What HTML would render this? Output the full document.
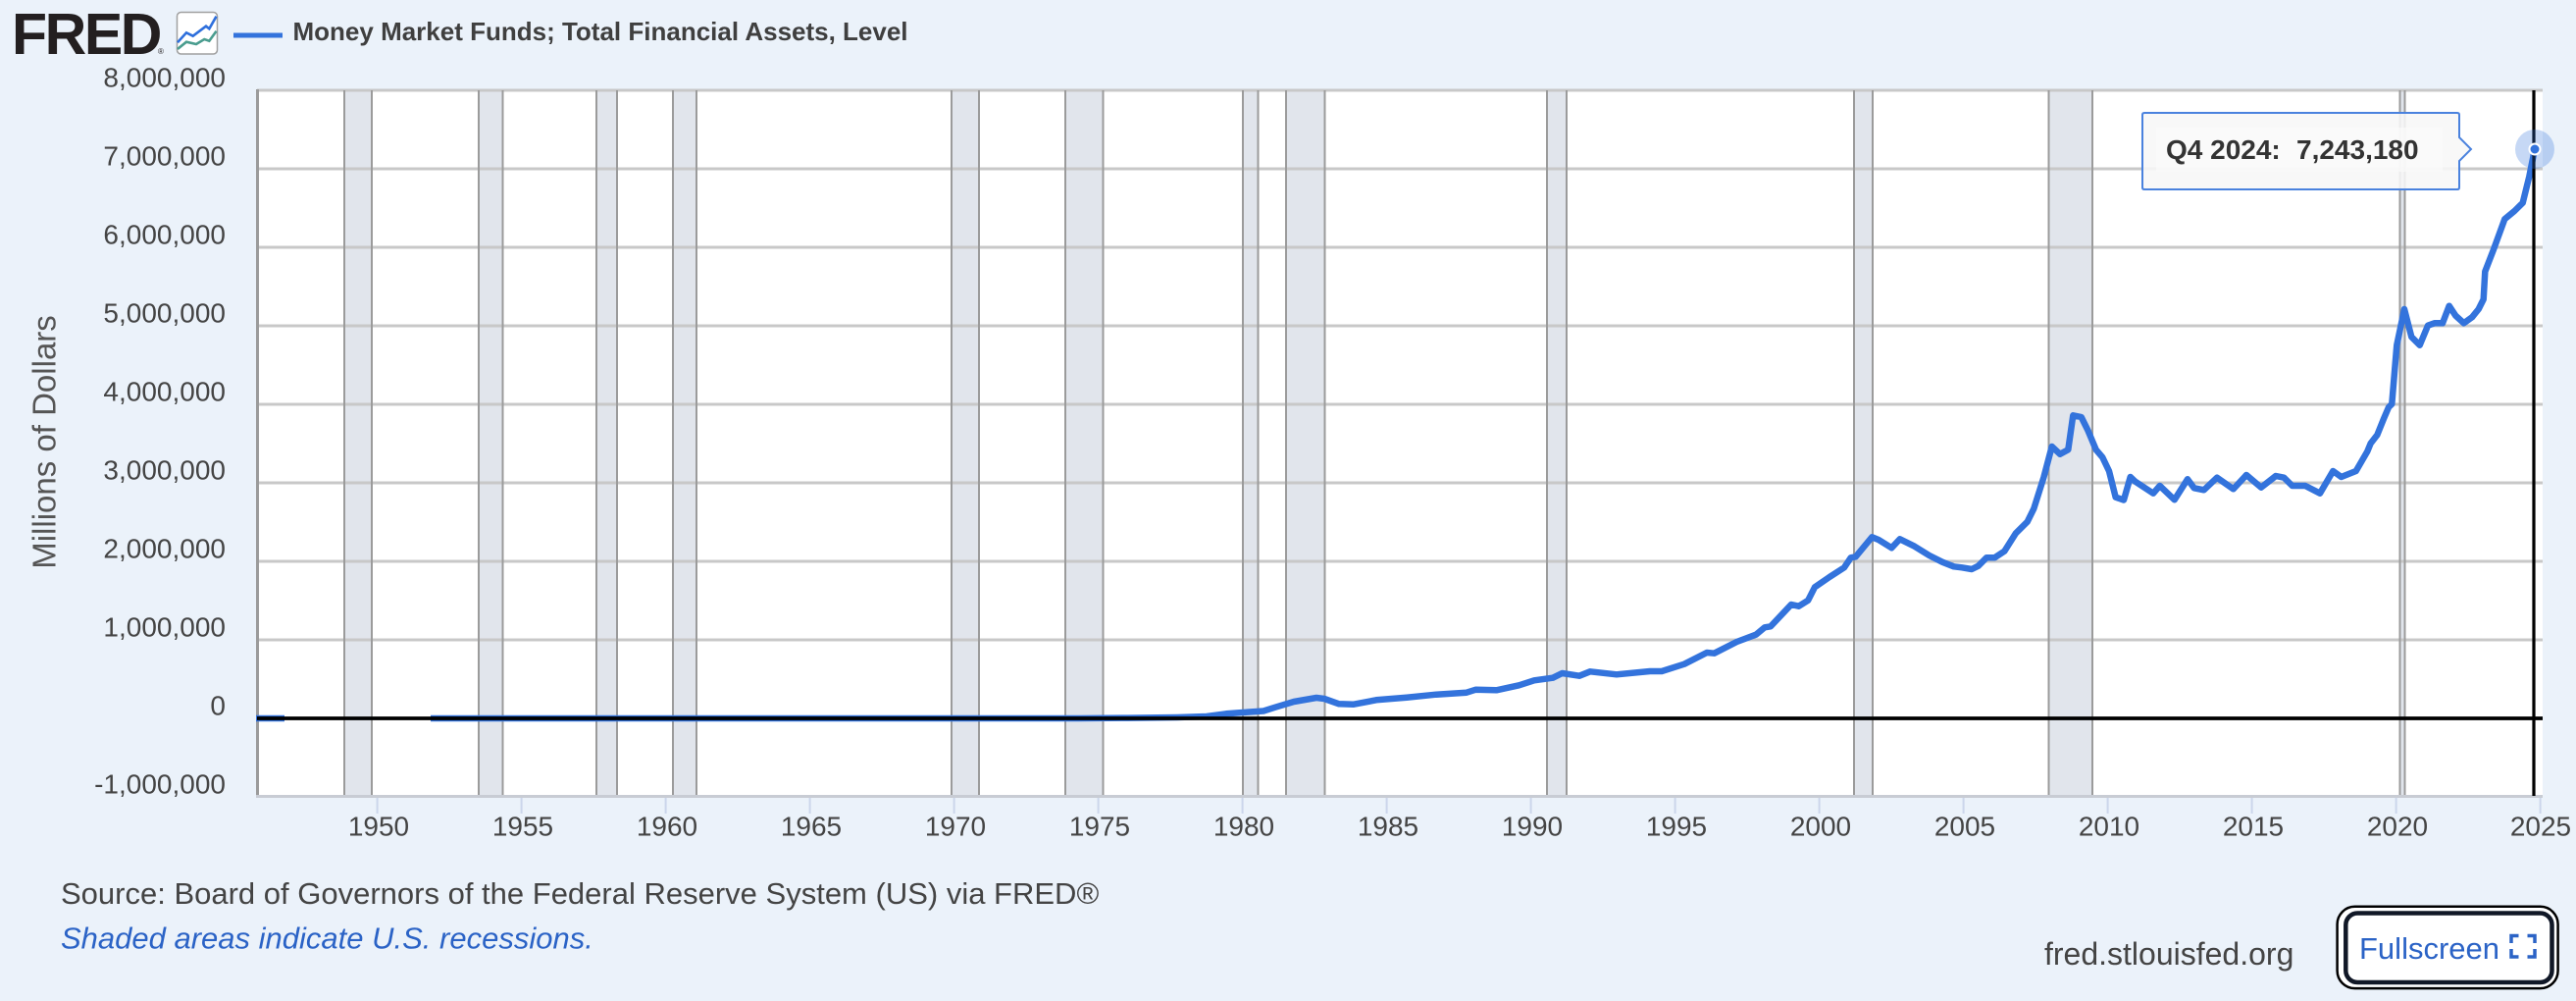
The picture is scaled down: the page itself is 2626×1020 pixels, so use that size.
<!DOCTYPE html>
<html>
<head>
<meta charset="utf-8">
<style>
html,body{margin:0;padding:0;background:#ebf2fa;}
svg{display:block;}
</style>
</head>
<body>
<svg width="2626" height="1020" viewBox="0 0 2626 1020" xmlns="http://www.w3.org/2000/svg" font-family="'Liberation Sans', Arial, sans-serif">
<rect x="0" y="0" width="2626" height="1020" fill="#ebf2fa"/>

<!-- Header / logo -->
<text x="12" y="55" font-size="59" font-weight="bold" fill="#231f20" letter-spacing="-2.4">FRED</text>
<text x="161" y="55" font-size="8" fill="#231f20">®</text>
<rect x="180.5" y="12.5" width="41" height="42.5" rx="4" fill="#fff" stroke="#a0a0a0" stroke-width="1.5"/>
<polyline points="181,43.3 190,33.3 196.7,36.7 210,26.7 213.3,29.3 220.5,16.7" fill="none" stroke="#2e6fdc" stroke-width="2.6"/>
<polyline points="181,50 190,42.7 200,45 208.3,40 213.3,41.7 220.5,31.7" fill="none" stroke="#4a9d8f" stroke-width="2.6"/>
<line x1="238" y1="36" x2="288" y2="36" stroke="#3373dc" stroke-width="5"/>
<text x="298.5" y="41" font-size="26" font-weight="bold" fill="#3f3f3f">Money Market Funds; Total Financial Assets, Level</text>

<!-- Plot area -->
<rect x="261" y="92" width="2331" height="720" fill="#ffffff"/>

<!-- Recession bands -->
<g fill="#e1e5ec" stroke="none">
<rect x="351" y="92" width="28" height="720"/>
<rect x="488" y="92" width="24.5" height="720"/>
<rect x="608" y="92" width="21" height="720"/>
<rect x="686" y="92" width="24" height="720"/>
<rect x="970" y="92" width="28" height="720"/>
<rect x="1086" y="92" width="38.5" height="720"/>
<rect x="1267" y="92" width="15.5" height="720"/>
<rect x="1311" y="92" width="39.5" height="720"/>
<rect x="1577" y="92" width="20" height="720"/>
<rect x="1890" y="92" width="19" height="720"/>
<rect x="2088.5" y="92" width="44.5" height="720"/>
<rect x="2446.5" y="92" width="5" height="720"/>
</g>

<!-- Gridlines -->
<g stroke="#c8c8c8" stroke-width="3">
<line x1="262" y1="92" x2="2592" y2="92"/>
<line x1="262" y1="172" x2="2592" y2="172"/>
<line x1="262" y1="252" x2="2592" y2="252"/>
<line x1="262" y1="332" x2="2592" y2="332"/>
<line x1="262" y1="412" x2="2592" y2="412"/>
<line x1="262" y1="492" x2="2592" y2="492"/>
<line x1="262" y1="572" x2="2592" y2="572"/>
<line x1="262" y1="652" x2="2592" y2="652"/>
</g>

<!-- Recession band edges -->
<g stroke="#9b9b9b" stroke-width="2">
<line x1="351" y1="92" x2="351" y2="811"/><line x1="379" y1="92" x2="379" y2="811"/>
<line x1="488" y1="92" x2="488" y2="811"/><line x1="512.5" y1="92" x2="512.5" y2="811"/>
<line x1="608" y1="92" x2="608" y2="811"/><line x1="629" y1="92" x2="629" y2="811"/>
<line x1="686" y1="92" x2="686" y2="811"/><line x1="710" y1="92" x2="710" y2="811"/>
<line x1="970" y1="92" x2="970" y2="811"/><line x1="998" y1="92" x2="998" y2="811"/>
<line x1="1086" y1="92" x2="1086" y2="811"/><line x1="1124.5" y1="92" x2="1124.5" y2="811"/>
<line x1="1267" y1="92" x2="1267" y2="811"/><line x1="1282.5" y1="92" x2="1282.5" y2="811"/>
<line x1="1311" y1="92" x2="1311" y2="811"/><line x1="1350.5" y1="92" x2="1350.5" y2="811"/>
<line x1="1577" y1="92" x2="1577" y2="811"/><line x1="1597" y1="92" x2="1597" y2="811"/>
<line x1="1890" y1="92" x2="1890" y2="811"/><line x1="1909" y1="92" x2="1909" y2="811"/>
<line x1="2088.5" y1="92" x2="2088.5" y2="811"/><line x1="2133" y1="92" x2="2133" y2="811"/>
<line x1="2446.5" y1="92" x2="2446.5" y2="811"/><line x1="2451.5" y1="92" x2="2451.5" y2="811"/>
</g>

<!-- Axes -->
<line x1="262.5" y1="91" x2="262.5" y2="812" stroke="#9b9b9b" stroke-width="3"/>
<line x1="261" y1="811.5" x2="2592" y2="811.5" stroke="#c8ccd4" stroke-width="3"/>
<g stroke="#ccd6eb" stroke-width="2">
<line x1="384.6" y1="813" x2="384.6" y2="829"/>
<line x1="531.6" y1="813" x2="531.6" y2="829"/>
<line x1="678.6" y1="813" x2="678.6" y2="829"/>
<line x1="825.6" y1="813" x2="825.6" y2="829"/>
<line x1="972.6" y1="813" x2="972.6" y2="829"/>
<line x1="1119.6" y1="813" x2="1119.6" y2="829"/>
<line x1="1266.6" y1="813" x2="1266.6" y2="829"/>
<line x1="1413.6" y1="813" x2="1413.6" y2="829"/>
<line x1="1560.6" y1="813" x2="1560.6" y2="829"/>
<line x1="1707.6" y1="813" x2="1707.6" y2="829"/>
<line x1="1854.6" y1="813" x2="1854.6" y2="829"/>
<line x1="2001.6" y1="813" x2="2001.6" y2="829"/>
<line x1="2148.6" y1="813" x2="2148.6" y2="829"/>
<line x1="2295.6" y1="813" x2="2295.6" y2="829"/>
<line x1="2442.6" y1="813" x2="2442.6" y2="829"/>
<line x1="2589.6" y1="813" x2="2589.6" y2="829"/>
</g>

<!-- Y labels -->
<g font-size="28" fill="#444" text-anchor="end">
<text x="230" y="88.5">8,000,000</text>
<text x="230" y="168.5">7,000,000</text>
<text x="230" y="248.5">6,000,000</text>
<text x="230" y="328.5">5,000,000</text>
<text x="230" y="408.5">4,000,000</text>
<text x="230" y="488.5">3,000,000</text>
<text x="230" y="568.5">2,000,000</text>
<text x="230" y="648.5">1,000,000</text>
<text x="230" y="728.5">0</text>
<text x="230" y="808.5">-1,000,000</text>
</g>
<text transform="translate(56.5,450.5) rotate(-90)" text-anchor="middle" font-size="33" fill="#555">Millions of Dollars</text>

<!-- X labels -->
<g font-size="28" fill="#444" text-anchor="middle">
<text x="386" y="851.5">1950</text>
<text x="533" y="851.5">1955</text>
<text x="680" y="851.5">1960</text>
<text x="827" y="851.5">1965</text>
<text x="974" y="851.5">1970</text>
<text x="1121" y="851.5">1975</text>
<text x="1268" y="851.5">1980</text>
<text x="1415" y="851.5">1985</text>
<text x="1562" y="851.5">1990</text>
<text x="1709" y="851.5">1995</text>
<text x="1856" y="851.5">2000</text>
<text x="2003" y="851.5">2005</text>
<text x="2150" y="851.5">2010</text>
<text x="2297" y="851.5">2015</text>
<text x="2444" y="851.5">2020</text>
<text x="2590" y="851.5">2025</text>
</g>

<!-- Series -->
<g fill="none" stroke="#3373dc" stroke-width="6.5" stroke-linejoin="round">
<polyline points="261,732 290,732"/>
<polyline points="439,732 1100,732 1150,731.6 1200,731 1230,730 1250,727.3 1267,726 1288,724.5 1300,720.7 1319,715 1342,711 1350,712 1365,717.3 1380,717.7 1403,713.3 1434,710.7 1464,707.7 1495,705.7 1504.5,702.7 1525.5,703.3 1548.5,698.3 1564,693.3 1583,690.7 1592.5,686 1610,688.7 1621,684.3 1648,687.3 1682,684 1694,684 1717,676.7 1740,665 1747.5,665.7 1770.5,654 1790,646.7 1799,639.3 1805,638.3 1826,616 1833.6,617.7 1843.2,611.7 1850,598.3 1865,588 1880,578.3 1886.7,568.3 1891.7,567.3 1908.3,547.3 1915,550 1928.3,558.3 1936.7,549.3 1951.7,556.7 1966.7,566 1980,572.7 1991.7,577.3 2000,578.3 2010,580 2016.7,576.7 2025,568.3 2033.3,568.3 2043.3,561.7 2055,543.3 2066.7,531.7 2073.3,518.3 2083.3,486.7 2091.7,455 2100,462.7 2108.3,458.3 2113.3,423.3 2121.7,425 2128.3,438.3 2136.7,458.3 2143.3,466 2150,480 2156.7,506.7 2165,509.5 2171.7,486 2176.7,490.7 2195,502.7 2201.7,495 2216.7,509.3 2230,488.3 2236.7,497.3 2246.7,499.3 2260,486.7 2276.7,498.3 2290,484 2305,496.7 2320,485 2328.3,486.7 2336.7,495 2350,495 2365,502.7 2378.3,480 2386.7,486 2401.7,480 2413.3,460 2416.7,451.7 2423.3,443.3 2430,426.7 2435,415 2438.3,411.7 2443.3,351.7 2451,315 2458.3,343.3 2466.7,351.7 2475,331.7 2481.7,329.3 2490,329.3 2496.7,311.7 2503.3,321.7 2511.7,329.3 2520,323.3 2526.7,315 2531.7,305 2533.3,276.7 2541.7,255 2553.3,223.3 2563.3,215 2571.7,206.7 2578.3,180 2584,151.7"/>
</g>

<!-- Zero line -->
<line x1="262" y1="732" x2="2592" y2="732" stroke="#000" stroke-width="3.8"/>

<!-- Crosshair -->
<line x1="2583" y1="92" x2="2583" y2="811" stroke="#000" stroke-width="3.2"/>

<!-- Marker -->
<circle cx="2584" cy="152" r="20" fill="#3373dc" fill-opacity="0.28"/>
<circle cx="2584" cy="152" r="5.5" fill="#3373dc" stroke="#fff" stroke-width="2"/>

<!-- Tooltip -->
<path d="M2186,115 L2505,115 Q2507,115 2507,117 L2507,140 L2519,152 L2507,164 L2507,191 Q2507,193 2505,193 L2186,193 Q2184,193 2184,191 L2184,117 Q2184,115 2186,115 Z" fill="#f7f7f7" fill-opacity="0.88" stroke="#4a82de" stroke-width="2"/>
<rect x="2198" y="130" width="292" height="45" fill="#fbfbfb" fill-opacity="0.7"/>
<text x="2208" y="162" font-size="28" font-weight="bold" fill="#333">Q4 2024:</text>
<text x="2341" y="162" font-size="28" font-weight="bold" fill="#333">7,243,180</text>

<!-- Footer -->
<text x="62" y="921" font-size="31" fill="#444">Source: Board of Governors of the Federal Reserve System (US) via FRED®</text>
<text x="62" y="966.5" font-size="31" font-style="italic" fill="#2b63c6">Shaded areas indicate U.S. recessions.</text>
<text x="2084" y="983" font-size="32" fill="#444">fred.stlouisfed.org</text>

<!-- Fullscreen button -->
<rect x="2382.6" y="923.8" width="225" height="83.3" rx="18" fill="#fff" stroke="#000" stroke-width="2.5"/>
<rect x="2391.3" y="930.5" width="210.2" height="70.5" rx="12" fill="#fff" stroke="#111827" stroke-width="4.5"/>
<text x="2405" y="977" font-size="31" fill="#2b63c6">Fullscreen</text>
<g fill="none" stroke="#2b63c6" stroke-width="3.5">
<polyline points="2560,961 2560,953.5 2567.5,953.5"/>
<polyline points="2576.5,953.5 2584,953.5 2584,961"/>
<polyline points="2560,967 2560,975 2567.5,975"/>
<polyline points="2576.5,975 2584,975 2584,967"/>
</g>
</svg>
</body>
</html>
